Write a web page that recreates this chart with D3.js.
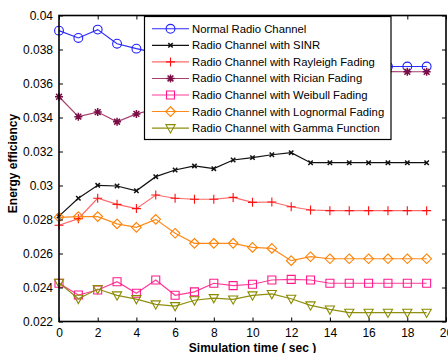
<!DOCTYPE html>
<html>
<head>
<meta charset="utf-8">
<script src="https://cdn.jsdelivr.net/npm/d3@7"></script>
<style>
  html, body { margin: 0; padding: 0; background: #fff; }
  svg { display: block; }
  text { font-family: "Liberation Sans", Arial, sans-serif; }
</style>
</head>
<body>
<svg id="chart" width="448" height="353"></svg>
<script>
// Simulation time steps (seconds)
const times = d3.range(0, 20);

// Energy efficiency per channel model
const normalRadio = [0.03911, 0.03868, 0.03917, 0.03834, 0.03805, 0.0378, 0.0376, 0.0375, 0.0374, 0.0373,
                     0.0372, 0.0372, 0.0371, 0.0370, 0.0370, 0.0370, 0.0370, 0.0370, 0.0370, 0.0370];
const sinr        = [0.02820, 0.02925, 0.03001, 0.02997, 0.02969, 0.03052, 0.03091, 0.03115, 0.03099, 0.03150,
                     0.03164, 0.03181, 0.03193, 0.03134, 0.03134, 0.03134, 0.03134, 0.03134, 0.03134, 0.03134];
const rayleigh    = [0.02766, 0.02805, 0.02925, 0.02889, 0.02864, 0.02944, 0.02925, 0.02919, 0.02919, 0.02930,
                     0.02901, 0.02903, 0.02875, 0.02856, 0.02852, 0.02852, 0.02852, 0.02852, 0.02852, 0.02852];
const rician      = [0.03522, 0.03405, 0.03432, 0.03375, 0.03421, 0.0345, 0.0350, 0.0353, 0.0356, 0.0359,
                     0.0361, 0.0363, 0.0366, 0.0367, 0.0367, 0.0367, 0.0367, 0.0367, 0.03669, 0.03669];
const weibull     = [0.02425, 0.02356, 0.02385, 0.02434, 0.02366, 0.02444, 0.02354, 0.02374, 0.02425, 0.02411,
                     0.02419, 0.02444, 0.02448, 0.02444, 0.02425, 0.02425, 0.02425, 0.02425, 0.02425, 0.02425];
const lognormal   = [0.02813, 0.02817, 0.02817, 0.02774, 0.02754, 0.02801, 0.02719, 0.02660, 0.02660, 0.02660,
                     0.02636, 0.02630, 0.02558, 0.02581, 0.02569, 0.02569, 0.02569, 0.02569, 0.02569, 0.02569];
const gamma       = [0.02428, 0.02334, 0.02391, 0.02354, 0.02332, 0.02301, 0.02291, 0.02325, 0.02338, 0.02330,
                     0.02354, 0.02362, 0.02334, 0.02295, 0.02271, 0.02252, 0.02252, 0.02252, 0.02252, 0.02252];

const seriesNames = [
  "Normal Radio Channel",
  "Radio Channel with SINR",
  "Radio Channel with Rayleigh Fading",
  "Radio Channel with Rician Fading",
  "Radio Channel with Weibull Fading",
  "Radio Channel with Lognormal Fading",
  "Radio Channel with Gamma Function"
];
const seriesValues = [normalRadio, sinr, rayleigh, rician, weibull, lognormal, gamma];

const xTicks = [0, 2, 4, 6, 8, 10, 12, 14, 16, 18, 20];
const yTicks = [0.022, 0.024, 0.026, 0.028, 0.03, 0.032, 0.034, 0.036, 0.038, 0.04];

// Styling per series: line colour, marker colour, marker shape
const styles = [
  { line: "#2b2bff", mark: "#1f1fff", shape: "circle" },
  { line: "#111111", mark: "#111111", shape: "x" },
  { line: "#ff6a6a", mark: "#ff1010", shape: "plus" },
  { line: "#a3406f", mark: "#7a0d45", shape: "star" },
  { line: "#ff3a9a", mark: "#ff1a8c", shape: "square" },
  { line: "#ff8a1a", mark: "#ff8000", shape: "diamond" },
  { line: "#8f8f10", mark: "#8a8a00", shape: "triangle" }
];

const svg = d3.select("#chart");
const margin = { left: 59, right: 2, top: 15.5, bottom: 31.5 };
const W = 448, H = 353;

const x = d3.scaleLinear().domain([0, 20]).range([margin.left, W - margin.right]);
const y = d3.scaleLinear().domain([0.022, 0.04]).range([H - margin.bottom, margin.top]);

function markerPath(shape) {
  switch (shape) {
    case "circle": {
      const r = 4.4;
      return `M${-r},0A${r},${r} 0 1,0 ${r},0A${r},${r} 0 1,0 ${-r},0Z`;
    }
    case "x": { const s = 2.2; return `M${-s},${-s}L${s},${s}M${-s},${s}L${s},${-s}`; }
    case "plus": { const s = 4.5; return `M${-s},0L${s},0M0,${-s}L0,${s}`; }
    case "star": {
      const s = 4, d = 2.9;
      return `M${-s},0L${s},0M0,${-s}L0,${s}M${-d},${-d}L${d},${d}M${-d},${d}L${d},${-d}`;
    }
    case "square": { const s = 4; return `M${-s},${-s}H${s}V${s}H${-s}Z`; }
    case "diamond": { const s = 4.8; return `M0,${-s}L${s},0L0,${s}L${-s},0Z`; }
    case "triangle": { const s = 4.6; return `M${-s},${-s*0.75}L${s},${-s*0.75}L0,${s*1.05}Z`; }
  }
}

// Data lines and markers
const line = d3.line().x((d, i) => x(times[i])).y(d => y(d));
const plot = svg.append("g");
seriesValues.forEach((vals, k) => {
  const st = styles[k];
  plot.append("path")
    .attr("d", line(vals))
    .attr("fill", "none")
    .attr("stroke", st.line)
    .attr("stroke-width", 1.2);
  plot.selectAll(null)
    .data(vals)
    .enter()
    .append("path")
    .attr("transform", (d, i) => `translate(${x(times[i])},${y(d)})`)
    .attr("d", markerPath(st.shape))
    .attr("fill", "none")
    .attr("stroke", st.mark)
    .attr("stroke-width", st.shape === "x" || st.shape === "star" ? 1.5 : 1.1);
});

// Axes: ticks point inward, box around the plot
const tickLen = 4;
const xAxis = d3.axisBottom(x).tickValues(xTicks).tickSizeInner(-tickLen).tickSizeOuter(0).tickPadding(7)
  .tickFormat(d3.format("d"));
const yAxis = d3.axisLeft(y).tickValues(yTicks).tickSizeInner(-tickLen).tickSizeOuter(0).tickPadding(6)
  .tickFormat(d => d3.format("")(+d.toFixed(3)));
const xTop = d3.axisTop(x).tickValues(xTicks).tickSizeInner(-tickLen).tickSizeOuter(0).tickFormat("");
const yRight = d3.axisRight(y).tickValues(yTicks).tickSizeInner(-tickLen).tickSizeOuter(0).tickFormat("");

function styleAxis(g) {
  g.select(".domain").remove();
  g.selectAll(".tick line").attr("stroke", "#000").attr("stroke-width", 1);
  g.selectAll(".tick text").attr("fill", "#000").style("font-size", "12px");
}
svg.append("g").attr("transform", `translate(0,${y(0.022)})`).call(xAxis).call(styleAxis);
svg.append("g").attr("transform", `translate(${x(0)},0)`).call(yAxis).call(styleAxis);
svg.append("g").attr("transform", `translate(0,${y(0.04)})`).call(xTop).call(styleAxis);
svg.append("g").attr("transform", `translate(${x(20)},0)`).call(yRight).call(styleAxis);

svg.append("rect")
  .attr("x", x(0)).attr("y", y(0.04))
  .attr("width", x(20) - x(0)).attr("height", y(0.022) - y(0.04))
  .attr("fill", "none").attr("stroke", "#000").attr("stroke-width", 1.6);

// Axis titles
svg.append("text")
  .attr("x", (x(0) + x(20)) / 2).attr("y", 351.5)
  .attr("text-anchor", "middle")
  .style("font-size", "12px").style("font-weight", "bold")
  .text("Simulation time ( sec )");
svg.append("text")
  .attr("transform", `translate(17,${(y(0.04) + y(0.022)) / 2 - 5}) rotate(-90)`)
  .attr("text-anchor", "middle")
  .style("font-size", "12px").style("font-weight", "bold")
  .text("Energy efficiency");

// Legend
const lg = svg.append("g");
const lgX = 144.5, lgY = 16.5, lgW = 246.5, lgH = 123;
lg.append("rect")
  .attr("x", lgX).attr("y", lgY).attr("width", lgW).attr("height", lgH)
  .attr("fill", "#fff").attr("stroke", "#000").attr("stroke-width", 1.2);
seriesNames.forEach((name, k) => {
  const st = styles[k];
  const cy = 28.8 + k * 16.55;
  lg.append("line")
    .attr("x1", 152).attr("x2", 189).attr("y1", cy).attr("y2", cy)
    .attr("stroke", st.line).attr("stroke-width", 1.1);
  lg.append("path")
    .attr("transform", `translate(170.5,${cy})`)
    .attr("d", markerPath(st.shape))
    .attr("fill", "none").attr("stroke", st.mark)
    .attr("stroke-width", st.shape === "x" || st.shape === "star" ? 1.5 : 1.1);
  lg.append("text")
    .attr("x", 192).attr("y", cy + 4)
    .style("font-size", "11.3px").attr("fill", "#000")
    .text(name);
});
</script>
</body>
</html>
